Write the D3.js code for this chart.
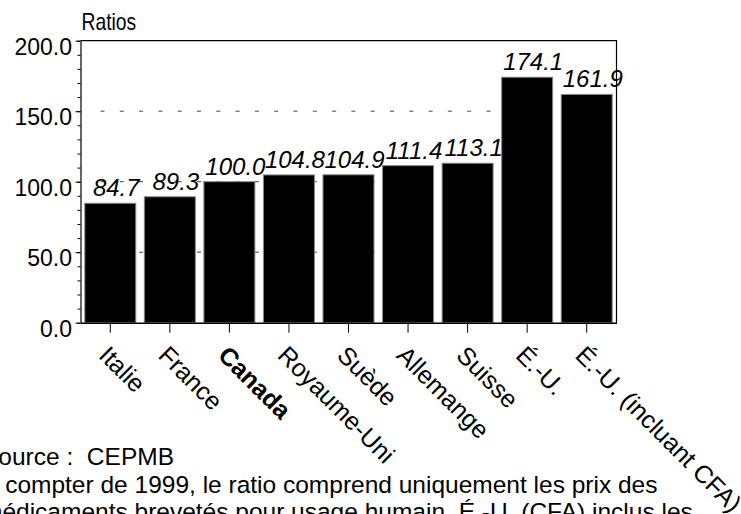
<!DOCTYPE html>
<html>
<head>
<meta charset="utf-8">
<script src="https://cdn.jsdelivr.net/npm/d3@7"></script>
<style>
  html, body { margin: 0; padding: 0; background: #fff; }
  svg { display: block; font-family: "Liberation Sans", Arial, sans-serif; }
  .notes text { white-space: pre; }
</style>
</head>
<body>
<svg id="chart" width="741" height="514"></svg>
<script>
// Price ratios by country (Canada = 100)
const categories = ["Italie", "France", "Canada", "Royaume-Uni", "Suède", "Allemange", "Suisse", "É.-U.", "É.-U. (incluant CFA)"];
const ratios = [84.7, 89.3, 100.0, 104.8, 104.9, 111.4, 113.1, 174.1, 161.9];
const yTicks = [0, 50, 100, 150, 200];
const gridValues = [50, 100, 150];
const minorTicks = d3.range(0, 201, 10);
const highlighted = "Canada";
const yTitle = "Ratios";
const notes = [
  "Source :  CEPMB",
  "À compter de 1999, le ratio comprend uniquement les prix des",
  "médicaments brevetés pour usage humain. É.-U. (CFA) inclus les"
];

const svg = d3.select("#chart");
const plotLeft = 80.5, plotRight = 616.5, plotTop = 40.7, plotBottom = 322.7;
const gridInset = 20;

const x = d3.scaleBand().domain(categories).range([plotLeft, plotRight])
  .paddingInner(0.144).paddingOuter(0.072);
const y = d3.scaleLinear().domain([0, 200]).range([plotBottom, plotTop]);

// dashed reference lines
svg.append("g").selectAll("line").data(gridValues).join("line")
  .attr("x1", plotLeft + gridInset).attr("x2", plotRight)
  .attr("y1", d => y(d)).attr("y2", d => y(d))
  .attr("stroke", "#444").attr("stroke-width", 1)
  .attr("stroke-dasharray", "4,15.3");

// bars
svg.append("g").selectAll("rect").data(ratios).join("rect")
  .attr("x", (d, i) => x(categories[i]))
  .attr("width", x.bandwidth())
  .attr("y", d => y(d))
  .attr("height", d => y(0) - y(d))
  .attr("fill", "#000")
  .attr("stroke", "#888").attr("stroke-width", 1);

// value labels
svg.append("g").selectAll("text").data(ratios).join("text")
  .attr("x", (d, i) => x(categories[i]) + x.bandwidth() / 2 + 6)
  .attr("y", d => y(d) - 7)
  .attr("text-anchor", "middle")
  .attr("font-style", "italic")
  .attr("font-size", 24)
  .text(d => d.toFixed(1));

// frame: top and right edges
svg.append("path")
  .attr("d", `M${plotLeft},${plotTop}H${plotRight}V${plotBottom}`)
  .attr("fill", "none").attr("stroke", "#000").attr("stroke-width", 1.2);

// y axis: minor ticks
svg.append("g").attr("transform", `translate(${plotLeft},0)`)
  .call(d3.axisLeft(y).tickValues(minorTicks).tickSize(3).tickFormat(""))
  .call(g => g.select(".domain").remove())
  .call(g => g.selectAll("line").attr("stroke", "#000"));

// y axis: major ticks and labels
svg.append("g").attr("transform", `translate(${plotLeft},0)`)
  .call(d3.axisLeft(y).tickValues(yTicks).tickSize(5).tickSizeOuter(0).tickPadding(3.5).tickFormat(d3.format(".1f")))
  .call(g => g.select(".domain").attr("stroke", "#000").attr("stroke-width", 1.2))
  .call(g => g.selectAll("line").attr("stroke", "#000"))
  .call(g => g.selectAll("text")
    .attr("font-size", 23).attr("font-family", "Liberation Sans, Arial, sans-serif")
    .attr("fill", "#000").attr("dy", "0.58em"));

// x axis
svg.append("g").attr("transform", `translate(0,${plotBottom})`)
  .call(d3.axisBottom(x).tickSize(10).tickSizeOuter(0).tickFormat(""))
  .call(g => g.select(".domain").attr("stroke", "#000").attr("stroke-width", 1.5))
  .call(g => g.selectAll(".tick line").attr("stroke", "#000"));

// rotated category labels
svg.append("g").selectAll("text").data(categories).join("text")
  .attr("transform", d => `translate(${x(d) + x.bandwidth() / 2},${plotBottom + 10}) rotate(45)`)
  .attr("x", 8).attr("y", 26)
  .attr("font-size", 25)
  .attr("font-weight", d => d === highlighted ? "bold" : "normal")
  .text(d => d);

// axis title
svg.append("text")
  .attr("transform", `translate(81.5,30) scale(0.84,1)`)
  .attr("font-size", 23)
  .text(yTitle);

// notes under the chart
svg.append("g").attr("class", "notes").selectAll("text").data(notes).join("text")
  .attr("x", -18)
  .attr("y", (d, i) => 465 + i * 27.7)
  .attr("font-size", 24.5)
  .text(d => d);
</script>
</body>
</html>
